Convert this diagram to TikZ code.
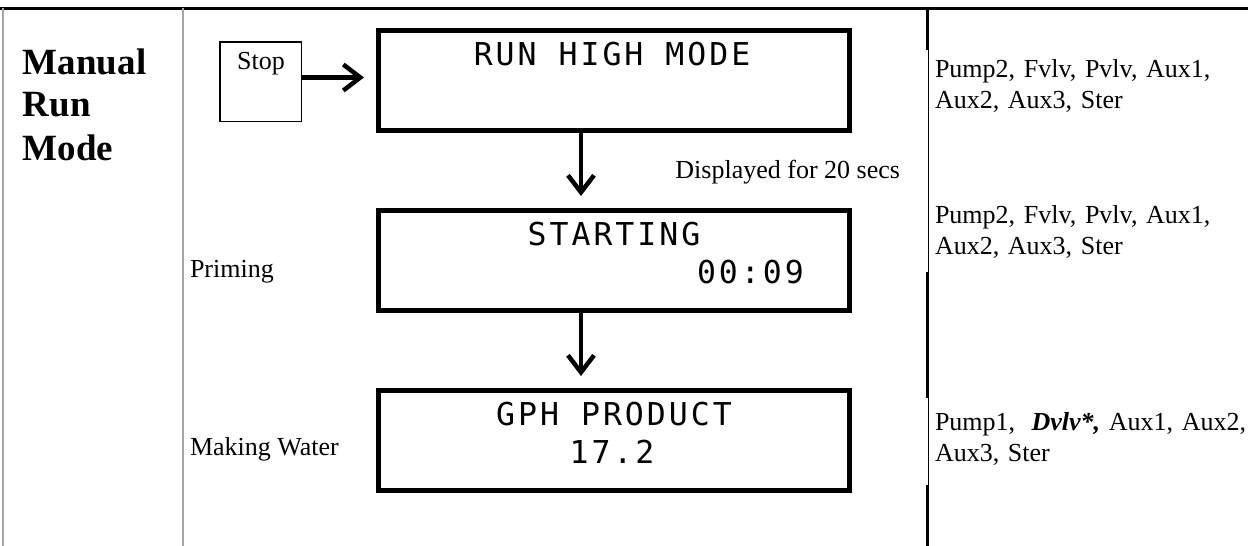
\documentclass[tikz,border=0pt]{standalone}
\usepackage{fontspec}
\setmainfont{Liberation Serif}
\newfontfamily\lcdfont[LetterSpace=9.5]{DejaVu Sans Mono}
\usepackage{tikz}
\usetikzlibrary{shapes,arrows}
\usetikzlibrary{arrows.meta}
\usetikzlibrary{positioning}
\tikzstyle{line} = [draw, line width=4.5pt, -{Straight Barb[length=17pt,width=26pt]}]

\begin{document}
\begin{tikzpicture}[x=1pt, y=-1pt,
	every node/.style={inner sep=0pt, outer sep=0pt},
	lcdbox/.style={draw, rectangle, line width=5pt,
		minimum width=471pt, minimum height=100pt},
	keybox/.style={draw, rectangle, line width=1.5pt,
		minimum width=81.5pt, minimum height=79.5pt},
	lcd/.style={anchor=base, font=\lcdfont\fontsize{31.5}{38}\selectfont},
	txt/.style={anchor=base west, font=\fontsize{26}{31}\selectfont},
	blk/.style={txt, text width=320pt, align=left}]
	\useasboundingbox (0,0) rectangle (1248,546);
	%% Table
	\draw [line width=3pt] (0,8) -- (1248,8);
	\draw [gray!70, line width=1.3pt] (3,8) -- (3,546);
	\draw [gray!70, line width=1.3pt] (183,8) -- (183,546);
	\draw [line width=3pt] (927.5,8) -- (927.5,50) (927.5,272) -- (927.5,398) (927.5,485) -- (927.5,546);
	\draw [line width=1pt] (928.5,50) -- (928.5,272) (928.5,398) -- (928.5,485);
	%% Labels
	\node [blk, font=\bfseries\fontsize{37}{43}\selectfont] (mode) at (23,74) {Manual\\Run\\Mode};
	\node [txt] (prime) at (190,277) {Priming};
	\node [txt] (make) at (190,455) {Making Water};
	\node [txt, anchor=base east] (delay) at (900,178) {Displayed for 20 secs};
	\node [blk] (out1) at (935,77) {Pump2, Fvlv, Pvlv, Aux1,\\Aux2, Aux3, Ster};
	\node [blk] (out2) at (935,223) {Pump2, Fvlv, Pvlv, Aux1,\\Aux2, Aux3, Ster};
	\node [blk] (out3) at (935,430) {Pump1,\hspace{0.3em} \textbf{\textit{Dvlv*,}} Aux1, Aux2,\\Aux3, Ster};
	%% Displays
	\node [keybox] at (260.5,81.5) (stop) {};
	\node [txt, anchor=base] at (261,69) (stoptxt) {Stop};
	\node [lcdbox] at (614,80.5) (run) {};
	\node [lcd] at (612,65) (runtxt) {RUN HIGH MODE};
	\node [lcdbox] at (614,260.5) (start) {};
	\node [lcd] at (614,245) (starttxt) {STARTING};
	\node [lcd, anchor=base west] at (697,283) (timer) {00:09};
	\node [lcdbox] at (614,440.5) (gph) {};
	\node [lcd] at (614,425) (gphtxt) {GPH PRODUCT};
	\node [lcd] at (612,463) (rate) {17.2};
	%% Flows
	\coordinate (ax) at (581,0);
	\path [line, shorten >=14.5pt] ([yshift=4pt]stop.east) -- ([yshift=4pt]stop.east -| run.west);
	\path [line, shorten >=14.5pt] (run.south -| ax) -- (start.north -| ax);
	\path [line, shorten >=14.5pt] (start.south -| ax) -- (gph.north -| ax);
\end{tikzpicture}
\end{document}
